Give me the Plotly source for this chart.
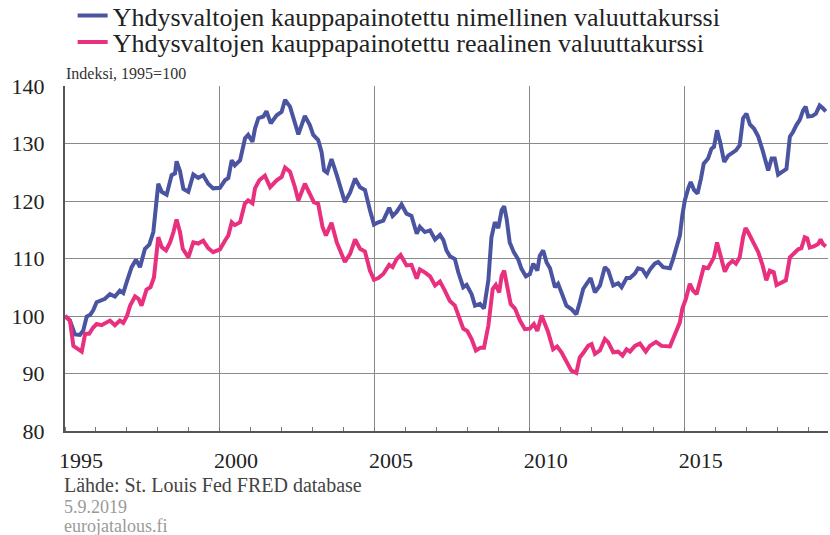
import plotly.graph_objects as go

# ---- data (decimal years, index 1995=100) ----
nominal_t = [1995.0, 1995.16, 1995.32, 1995.48, 1995.59, 1995.7, 1995.81, 1995.91, 1996.02, 1996.18,
             1996.29, 1996.45, 1996.61, 1996.77, 1996.88, 1996.99, 1997.15, 1997.29, 1997.42, 1997.58,
             1997.72, 1997.85, 1998.01, 1998.12, 1998.28, 1998.44, 1998.55, 1998.6, 1998.71, 1998.82,
             1998.98, 1999.14, 1999.3, 1999.46, 1999.62, 1999.78, 2000.0, 2000.16, 2000.27, 2000.38,
             2000.48, 2000.65, 2000.81, 2000.91, 2001.05, 2001.13, 2001.24, 2001.4, 2001.5, 2001.64,
             2001.83, 2001.99, 2002.1, 2002.26, 2002.42, 2002.53, 2002.74, 2002.9, 2003.01, 2003.17,
             2003.28, 2003.36, 2003.46, 2003.6, 2003.77, 2003.87, 2004.03, 2004.2, 2004.36, 2004.52,
             2004.68, 2004.84, 2004.97, 2005.11, 2005.27, 2005.46, 2005.57, 2005.7, 2005.86, 2006.02,
             2006.18, 2006.35, 2006.45, 2006.61, 2006.78, 2006.94, 2007.1, 2007.21, 2007.31, 2007.42,
             2007.58, 2007.69, 2007.85, 2007.96, 2008.12, 2008.23, 2008.39, 2008.52, 2008.66, 2008.76,
             2008.87, 2008.98, 2009.09, 2009.17, 2009.25, 2009.35, 2009.48, 2009.62, 2009.73, 2009.87,
             2010.0, 2010.11, 2010.24, 2010.32, 2010.43, 2010.54, 2010.65, 2010.81, 2010.91, 2011.02,
             2011.18, 2011.34, 2011.5, 2011.61, 2011.72, 2011.83, 2011.96, 2012.1, 2012.26, 2012.42,
             2012.53, 2012.69, 2012.85, 2012.96, 2013.12, 2013.23, 2013.39, 2013.49, 2013.63, 2013.76,
             2013.89, 2014.03, 2014.14, 2014.3, 2014.52, 2014.62, 2014.73, 2014.84, 2014.92, 2015.0,
             2015.11, 2015.19, 2015.3, 2015.41, 2015.52, 2015.61, 2015.75, 2015.86, 2015.94, 2016.04,
             2016.15, 2016.27, 2016.4, 2016.51, 2016.65, 2016.77, 2016.88, 2016.99, 2017.1, 2017.23,
             2017.37, 2017.51, 2017.61, 2017.69, 2017.8, 2017.9, 2018.01, 2018.15, 2018.28, 2018.39,
             2018.49, 2018.6, 2018.71, 2018.82, 2018.9, 2018.98, 2019.12, 2019.23, 2019.35, 2019.44,
             2019.55]
nominal_v = [100, 99.2, 96.8, 96.7, 97.5, 99.9, 100.2, 101, 102.4, 102.7,
             103, 103.8, 103.4, 104.4, 104, 105.9, 108.5, 109.8, 108.5, 111.7,
             112.4, 114.6, 123, 121.6, 121.1, 124.5, 124.8, 126.9, 125.2, 122.1,
             121.6, 124.6, 124.0, 124.5, 123, 122.2, 122.3, 123.6, 124, 127.1,
             126.2, 127.1, 130.9, 131.5, 130.3, 132.6, 134.4, 134.7, 135.6, 133.5,
             134.9, 135.5, 137.6, 136.4, 133.5, 131.6, 134.8, 133.2, 131.5, 130.6,
             128.5, 125.3, 124.9, 127.3, 124.5, 122.7, 119.8, 121.5, 123.9, 122.4,
             121.9, 118.4, 115.9, 116.3, 116.6, 118.8, 117.4, 118.1, 119.4, 117.8,
             117.4, 114.3, 115.5, 114.6, 114.9, 113.3, 114.1, 113.2, 111.4, 110.4,
             109.9, 107.6, 105, 105.4, 103.8, 101.8, 102.1, 101.3, 106.2, 113.7,
             116.3, 115.3, 118.4, 119.1, 116.9, 112.8, 111.1, 109.9, 108.2, 106.9,
             107.3, 109.1, 107.9, 110.5, 111.4, 109.3, 108.3, 105, 105.6, 104.1,
             101.8, 101.2, 100.3, 102.4, 104.7, 105.6, 106.6, 104.1, 105.3, 108.5,
             107.9, 105.3, 105.7, 105, 106.6, 106.6, 107.4, 108.3, 108.1, 107,
             108.2, 109.1, 109.4, 108.5, 108.3, 109.9, 111.7, 114, 117.5, 120.1,
             122.2, 123.3, 121.9, 121.3, 123.9, 126.5, 127.4, 129.1, 129.4, 132.3,
             130, 126.8, 127.9, 128.3, 128.8, 129.7, 134.4, 135.2, 133.3, 132.6,
             131.2, 128.8, 127.1, 125.3, 127.4, 127.4, 124.6, 125.2, 125.6, 131.2,
             132, 133.2, 134.1, 135.8, 136.4, 134.7, 134.8, 135.2, 136.6, 136.2,
             135.6]

real_t = [1995.0, 1995.16, 1995.27, 1995.43, 1995.54, 1995.65, 1995.78, 1995.91, 1996.02, 1996.18,
          1996.29, 1996.45, 1996.61, 1996.77, 1996.88, 1997.0, 1997.1, 1997.26, 1997.37, 1997.47,
          1997.63, 1997.76, 1997.87, 1998.01, 1998.12, 1998.26, 1998.39, 1998.5, 1998.6, 1998.71,
          1998.8, 1998.98, 1999.14, 1999.3, 1999.46, 1999.62, 1999.78, 2000.0, 2000.16, 2000.27,
          2000.38, 2000.48, 2000.65, 2000.8, 2000.91, 2001.05, 2001.13, 2001.27, 2001.45, 2001.62,
          2001.83, 2001.99, 2002.1, 2002.26, 2002.42, 2002.53, 2002.74, 2002.9, 2003.03, 2003.17,
          2003.31, 2003.42, 2003.6, 2003.77, 2003.9, 2004.03, 2004.2, 2004.36, 2004.52, 2004.68,
          2004.84, 2004.97, 2005.11, 2005.27, 2005.46, 2005.57, 2005.7, 2005.83, 2006.02, 2006.18,
          2006.35, 2006.45, 2006.61, 2006.78, 2006.94, 2007.1, 2007.24, 2007.42, 2007.58, 2007.69,
          2007.85, 2007.98, 2008.12, 2008.26, 2008.41, 2008.52, 2008.66, 2008.8, 2008.9, 2009.01,
          2009.09, 2009.17, 2009.25, 2009.38, 2009.52, 2009.68, 2009.84, 2010.0, 2010.13, 2010.24,
          2010.38, 2010.48, 2010.59, 2010.75, 2010.88, 2011.02, 2011.18, 2011.34, 2011.5, 2011.61,
          2011.74, 2011.88, 2011.99, 2012.1, 2012.26, 2012.42, 2012.53, 2012.69, 2012.85, 2012.99,
          2013.12, 2013.23, 2013.39, 2013.55, 2013.74, 2013.87, 2014.07, 2014.25, 2014.52, 2014.68,
          2014.84, 2014.92, 2015.03, 2015.16, 2015.27, 2015.38, 2015.51, 2015.61, 2015.75, 2015.86,
          2015.94, 2016.04, 2016.15, 2016.29, 2016.4, 2016.54, 2016.65, 2016.77, 2016.88, 2016.96,
          2017.04, 2017.18, 2017.37, 2017.51, 2017.63, 2017.74, 2017.87, 2017.96, 2018.12, 2018.26,
          2018.39, 2018.52, 2018.66, 2018.76, 2018.87, 2018.95, 2019.03, 2019.16, 2019.3, 2019.38,
          2019.46, 2019.55]
real_v = [100, 99.2, 94.8, 94.2, 93.8, 96.9, 96.9, 98, 98.6, 98.4,
          98.8, 99.2, 98.4, 99.2, 98.8, 100, 101.8, 103.4, 103, 101.8,
          104.6, 105, 106.7, 113.7, 112, 111.4, 112.8, 114.6, 116.8, 114.6,
          111.7, 110.2, 112.8, 112.6, 113.1, 111.8, 111.1, 111.6, 113.1, 114,
          116.3, 115.8, 116.3, 119.5, 120.1, 119.6, 122.2, 123.6, 124.4, 122.4,
          123.6, 124.2, 125.8, 125.1, 122.4, 120.1, 123, 121.3, 119.8, 119.5,
          115.5, 114, 116.2, 112.8, 111.1, 109.4, 110.8, 113.3, 111.7, 111.2,
          107.9, 106.3, 106.6, 107.3, 108.9, 108.5, 109.9, 110.6, 108.8, 108.9,
          106.5, 108.1, 107.6, 106.9, 105.3, 106, 104.6, 102.6, 101.8, 100.1,
          97.8, 97.4, 96, 94, 94.5, 94.5, 98.3, 104.7, 105.4, 104.1,
          107, 107.9, 105.3, 102.1, 101.3, 99.2, 97.7, 97.8, 98.6, 97.4,
          100.1, 98.9, 97.2, 94.2, 94.7, 93.7, 91.9, 90.5, 90.1, 92.8,
          93.7, 94.8, 95.1, 93.4, 94, 96, 95.4, 93.7, 93.8, 93.1,
          94.2, 93.8, 94.8, 95.2, 93.8, 94.8, 95.5, 94.8, 94.7, 96.9,
          98.9, 101.3, 102.9, 105.6, 104.4, 103.8, 106.4, 108.5, 108.3, 109.6,
          110.2, 112.8, 110.5, 107.7, 108.9, 109.6, 109.1, 110.2, 113.7, 115.3,
          114.6, 113.1, 111.1, 108.8, 106.2, 107.9, 107.6, 105.4, 105.9, 106.2,
          110.2, 110.8, 111.6, 111.8, 113.7, 113.5, 111.9, 112.1, 112.5, 113.3,
          112.5, 112.1]

series_names = ["Yhdysvaltojen kauppapainotettu nimellinen valuuttakurssi",
                "Yhdysvaltojen kauppapainotettu reaalinen valuuttakurssi"]
x_tick_years = [1995, 2000, 2005, 2010, 2015]
x_tick_labels = ["1995", "2000", "2005", "2010", "2015"]
y_ticks = [80, 90, 100, 110, 120, 130, 140]

FONT = "Liberation Serif, Georgia, serif"
BLUE = "#4a54a1"
PINK = "#e8307f"

fig = go.Figure()
fig.add_trace(go.Scatter(x=nominal_t, y=nominal_v, mode="lines", name=series_names[0],
                         line=dict(color=BLUE, width=4), legend="legend"))
fig.add_trace(go.Scatter(x=real_t, y=real_v, mode="lines", name=series_names[1],
                         line=dict(color=PINK, width=4), legend="legend2"))

leg_common = dict(orientation="v", xref="paper", yref="paper", xanchor="left", yanchor="middle",
                  font=dict(size=26, family=FONT, color="#222222"),
                  bgcolor="rgba(0,0,0,0)", itemwidth=30)

fig.update_layout(
    width=830, height=535,
    margin=dict(l=65, r=2, t=86, b=104, autoexpand=False),
    paper_bgcolor="white", plot_bgcolor="white",
    font=dict(family=FONT, color="#222222"),
    showlegend=True,
    legend=dict(leg_common, x=0.01, y=1.204),
    legend2=dict(leg_common, x=0.01, y=1.127),
    xaxis=dict(range=[1995, 2019.62], tickvals=x_tick_years, ticktext=x_tick_labels,
               showgrid=True, gridcolor="#8a8a8a", gridwidth=1,
               showline=True, linecolor="#555555", linewidth=2,
               ticks="", ticklabelshift=16, ticklabelstandoff=9, tickangle=0,
               tickfont=dict(size=22, family=FONT, color="#222222"),
               minor=dict(dtick=1, tick0=1995, ticks="inside", ticklen=4,
                          tickcolor="#777777", showgrid=False),
               zeroline=False),
    yaxis=dict(range=[80, 140], tickvals=y_ticks,
               showgrid=True, gridcolor="#8a8a8a", gridwidth=1,
               showline=True, linecolor="#555555", linewidth=2,
               ticks="", ticklabelstandoff=14,
               tickfont=dict(size=22, family=FONT, color="#222222"),
               zeroline=False),
    annotations=[
        dict(text="Indeksi, 1995=100", xref="paper", yref="paper", x=-0.001, y=1,
             xanchor="left", yanchor="middle", yshift=13, showarrow=False,
             font=dict(size=16, family=FONT, color="#333333")),
        dict(text="Lähde: St. Louis Fed FRED database", xref="paper", yref="paper",
             x=-0.004, y=0, xanchor="left", yanchor="middle", yshift=-54, showarrow=False,
             font=dict(size=20, family=FONT, color="#444444")),
        dict(text="5.9.2019", xref="paper", yref="paper",
             x=-0.004, y=0, xanchor="left", yanchor="middle", yshift=-76, showarrow=False,
             font=dict(size=18, family=FONT, color="#9a9a9a")),
        dict(text="eurojatalous.fi", xref="paper", yref="paper",
             x=-0.004, y=0, xanchor="left", yanchor="middle", yshift=-95, showarrow=False,
             font=dict(size=18, family=FONT, color="#9a9a9a")),
    ],
)

fig.write_html("out.html", config={"displayModeBar": False},
               post_script="document.body.style.margin='0';document.body.style.padding='0';")
